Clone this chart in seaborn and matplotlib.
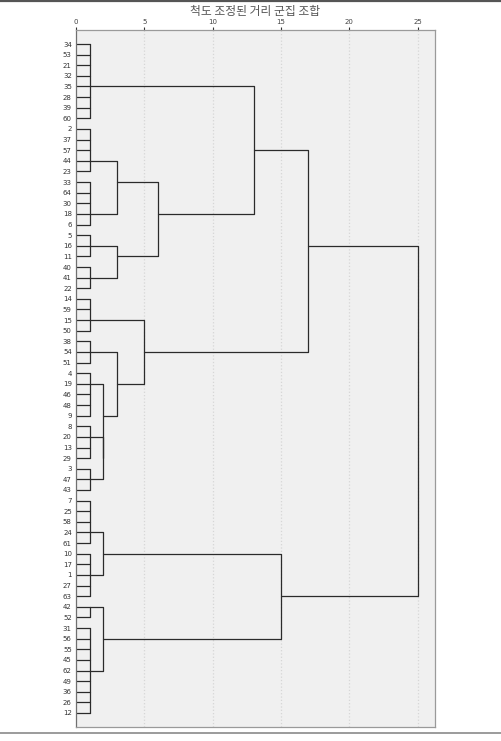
import numpy as np
import pandas as pd
import matplotlib
matplotlib.use("Agg")
import matplotlib.pyplot as plt
import seaborn as sns

# 잎 순서 (위에서 아래로)
leaf_labels = ['34', '53', '21', '32', '35', '28', '39', '60',
               '2', '37', '57', '44', '23',
               '33', '64', '30', '18', '6',
               '5', '16', '11',
               '40', '41', '22',
               '14', '59', '15', '50',
               '38', '54', '51',
               '4', '19', '46', '48', '9',
               '8', '20', '13', '29',
               '3', '47', '43',
               '7', '25', '58', '24', '61',
               '10', '17', '1', '27', '63',
               '42', '52',
               '31', '56', '55', '45', '62', '49', '36', '26', '12']

# 거리 1 에서 묶이는 1단계 군집: 크기와 연결선이 나가는 잎
group_sizes = [8, 5, 5, 3, 3, 4, 3, 5, 4, 3, 5, 5, 2, 9]
group_anchor = ['35', '44', '18', '16', '41', '15', '54', '19', '20', '47', '24', '1', '42', '62']
group_height = 1.0

# 상위 결합 (왼쪽, 오른쪽, 재조정 거리)
merge_left = ['g1', 'g3', 'm0', 'g0', 'g8', 'g7', 'g6', 'g5', 'm3', 'g10', 'g12', 'm9', 'm8']
merge_right = ['g2', 'g4', 'm1', 'm2', 'g9', 'm4', 'm5', 'm6', 'm7', 'g11', 'g13', 'm10', 'm11']
merge_height = [3.0, 3.0, 6.0, 13.0, 2.0, 2.0, 3.0, 5.0, 17.0, 2.0, 2.0, 15.0, 25.0]

title_text = '척도 조정된 거리 군집 조합'
x_ticks = [0, 5, 10, 15, 20, 25]

# 선분 테이블 만들기
rows = []
seg = 0
node_row = {}
node_h = {}
start = 0
for gi, (n, anchor) in enumerate(zip(group_sizes, group_anchor)):
    for r in range(start, start + n):
        rows.append((seg, 0.0, r))
        rows.append((seg, group_height, r))
        seg += 1
    rows.append((seg, group_height, start))
    rows.append((seg, group_height, start + n - 1))
    seg += 1
    node_row[f'g{gi}'] = leaf_labels.index(anchor)
    node_h[f'g{gi}'] = group_height
    start += n

for mi, (a, b, h) in enumerate(zip(merge_left, merge_right, merge_height)):
    ra, rb = node_row[a], node_row[b]
    for x, y in [(node_h[a], ra), (h, ra), (h, rb), (node_h[b], rb)]:
        rows.append((seg, x, y))
    seg += 1
    node_row[f'm{mi}'] = (ra + rb) // 2
    node_h[f'm{mi}'] = h

df = pd.DataFrame(rows, columns=['seg', 'x', 'y'])

sns.set_style('white')
plt.rcParams['font.family'] = ['DejaVu Sans']

W, H = 501, 741
fig = plt.figure(figsize=(W / 100, H / 100), dpi=100)
ax = fig.add_axes([76 / W, 1 - 727 / H, (435 - 76) / W, (727 - 30) / H])
ax.set_facecolor('#f0f0f0')

sns.lineplot(data=df, x='x', y='y', units='seg', estimator=None, sort=False,
             color='#2b2b2b', linewidth=0.9, ax=ax, legend=False)

ax.set_xlim(0, 26.28)
ax.set_ylim(64.32, -1.32)

ax.xaxis.tick_top()
ax.set_xticks(x_ticks)
ax.set_xticklabels([str(t) for t in x_ticks], fontsize=5, color='#444444')
ax.tick_params(axis='x', direction='out', length=2.5, width=0.8, pad=1,
               color='#333333', top=True, bottom=False)
ax.set_yticks(range(len(leaf_labels)))
ax.set_yticklabels(leaf_labels, fontsize=5, color='#333333')
ax.tick_params(axis='y', length=0, pad=3)
ax.set_xlabel('')
ax.set_ylabel('')

for t in x_ticks[1:]:
    ax.axvline(t, color='#d6d6d6', linestyle=':', linewidth=0.9, zorder=0)

for side in ['top', 'right', 'bottom']:
    ax.spines[side].set_color('#9a9a9a')
    ax.spines[side].set_linewidth(0.9)
ax.spines['left'].set_color('#707070')
ax.spines['left'].set_linewidth(0.9)

fig.text(255.5 / W, 1 - 11 / H, title_text, ha='center', va='center',
         fontsize=8.5, color='#555555', family=['Noto Sans CJK KR', 'DejaVu Sans'])

fig.add_artist(plt.Line2D([0, 1], [1 - 1 / H, 1 - 1 / H], transform=fig.transFigure,
                          color='#555555', linewidth=1.6))
fig.add_artist(plt.Line2D([0, 1], [1 - 733 / H, 1 - 733 / H], transform=fig.transFigure,
                          color='#8a8a8a', linewidth=1.2))

fig.savefig('out.png', dpi=100)
